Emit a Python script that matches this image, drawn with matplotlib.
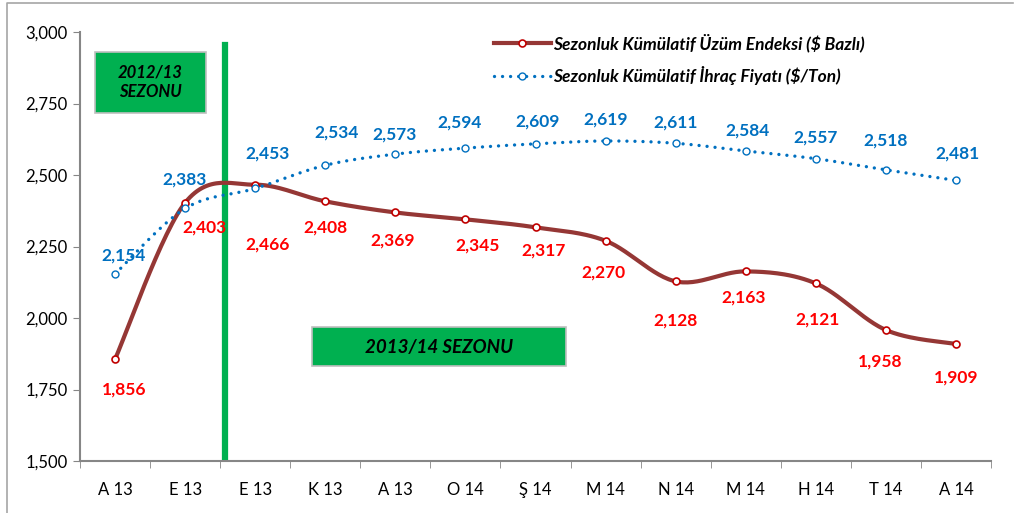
import numpy as np
import matplotlib.pyplot as plt
from matplotlib.lines import Line2D
from matplotlib.patches import Rectangle

plt.rcParams['font.family'] = ['Lato', 'DejaVu Sans']

aylar = ["A 13", "E 13", "E 13", "K 13", "A 13", "O 14", "Ş 14",
         "M 14", "N 14", "M 14", "H 14", "T 14", "A 14"]
endeks = [1856, 2403, 2466, 2408, 2369, 2345, 2317, 2270, 2128, 2163, 2121, 1958, 1909]
ihrac = [2154, 2383, 2453, 2534, 2573, 2594, 2609, 2619, 2611, 2584, 2557, 2518, 2481]

ad_endeks = "Sezonluk Kümülatif Üzüm Endeksi ($ Bazlı)"
ad_ihrac = "Sezonluk Kümülatif İhraç Fiyatı ($/Ton)"

# etiket kaydirmalari (piksel)
ofs_endeks = [(9, -30), (19, -25), (12, -60), (0, -26), (-3, -28), (12, -26),
              (8, -23), (-2, -32), (0, -39), (-2, -26), (2, -36), (-6, -32), (0, -33)]
ofs_ihrac = [(9, 18), (-1, 29), (12, 35), (11, 33), (-1, 20), (-6, 26),
             (2, 22), (0, 21), (0, 21), (2, 20), (0, 21), (0, 29), (2, 27)]


def egri(y, n=30):
    # Excel tarzi yumusatilmis cizgi (Catmull-Rom / Bezier)
    x = np.arange(len(y), dtype=float)
    y = np.asarray(y, dtype=float)
    px = np.concatenate([[x[0]], x, [x[-1]]])
    py = np.concatenate([[y[0]], y, [y[-1]]])
    X, Y = [], []
    t = np.linspace(0, 1, n)
    for i in range(len(x) - 1):
        p0 = (px[i + 1], py[i + 1])
        p3 = (px[i + 2], py[i + 2])
        p1 = (p0[0] + (px[i + 2] - px[i]) / 6, p0[1] + (py[i + 2] - py[i]) / 6)
        p2 = (p3[0] - (px[i + 3] - px[i + 1]) / 6, p3[1] - (py[i + 3] - py[i + 1]) / 6)
        for k in range(2):
            b = ((1 - t) ** 3 * p0[k] + 3 * (1 - t) ** 2 * t * p1[k]
                 + 3 * (1 - t) * t ** 2 * p2[k] + t ** 3 * p3[k])
            (X if k == 0 else Y).append(b)
    return np.concatenate(X), np.concatenate(Y)


fig = plt.figure(figsize=(10.14, 5.13), dpi=100)
ax = fig.add_axes([80 / 1014, 52 / 513, 911 / 1014, 429 / 513])

kirmizi = "#953735"
mavi = "#0070C0"
x = np.arange(len(aylar))

ex, ey = egri(endeks)
ax.plot(ex, ey, color=kirmizi, lw=3.0, solid_capstyle="round", zorder=3)
ax.plot(x, endeks, ls="none", marker="o", ms=5, mfc="white", mec="#C00000", mew=1.2, zorder=4)

ix, iy = egri(ihrac)
ax.plot(ix, iy, color=mavi, lw=2.4, ls=(0, (0.01, 2.4)), dash_capstyle="round", zorder=3)
ax.plot(x, ihrac, ls="none", marker="o", ms=5, mfc="white", mec=mavi, mew=1.0, zorder=4)

for i, v in enumerate(endeks):
    ax.annotate(f"{v:,}", (i, v), xytext=ofs_endeks[i], textcoords="offset pixels",
                ha="center", va="center", color="#FF0000", fontsize=12.5, fontweight="bold", zorder=5)
for i, v in enumerate(ihrac):
    ax.annotate(f"{v:,}", (i, v), xytext=ofs_ihrac[i], textcoords="offset pixels",
                ha="center", va="center", color=mavi, fontsize=12.5, fontweight="bold", zorder=5)

ax.set_xlim(-0.5, len(aylar) - 0.5)
ax.set_ylim(1500, 3000)
ax.set_yticks(range(1500, 3001, 250))
ax.set_yticklabels([f"{v:,}" for v in range(1500, 3001, 250)], fontsize=12)
ax.set_xticks(x)
ax.set_xticklabels(aylar, fontsize=12)
ax.set_xticks(np.arange(-0.5, len(aylar), 1), minor=True)
ax.tick_params(axis="x", which="major", length=0, pad=15)
ax.tick_params(axis="x", which="minor", length=5, color="#868686", direction="out")
ax.tick_params(axis="y", length=5, color="#868686", direction="out", pad=4)
for s in ["top", "right"]:
    ax.spines[s].set_visible(False)
for s in ["left", "bottom"]:
    ax.spines[s].set_color("#868686")
    ax.spines[s].set_linewidth(1.5)

# sezon ayrimi
ax.axvline(1.57, ymin=0.0, ymax=0.97, color="#00B050", lw=4.5, zorder=2)

yesil = "#00B050"
fig.patches.append(Rectangle((95 / 1014, 1 - 113 / 513), 111 / 1014, 61 / 513,
                             transform=fig.transFigure, fc=yesil, ec="#BFBFBF", lw=1.2))
fig.text(150 / 1014, 1 - 82 / 513, "2012/13\nSEZONU", ha="center", va="center",
         fontsize=12, fontweight="bold", fontstyle="italic", linespacing=1.25)
fig.patches.append(Rectangle((312 / 1014, 1 - 366 / 513), 254 / 1014, 39 / 513,
                             transform=fig.transFigure, fc=yesil, ec="#BFBFBF", lw=1.2))
fig.text(439 / 1014, 1 - 347 / 513, "2013/14 SEZONU", ha="center", va="center",
         fontsize=13.5, fontweight="bold", fontstyle="italic")

h1 = Line2D([], [], color=kirmizi, lw=3.0, marker="o", ms=5, mfc="white", mec="#C00000", mew=1.2)
h2 = Line2D([], [], color=mavi, lw=2.4, ls=(0, (0.01, 2.4)), dash_capstyle="round",
            marker="o", ms=5, mfc="white", mec=mavi, mew=1.0)
ax.legend([h1, h2], [ad_endeks, ad_ihrac], loc="upper left",
          bbox_to_anchor=(478 / 1014, 1 - 18 / 513), bbox_transform=fig.transFigure,
          frameon=False, handlelength=3.3, handletextpad=0.15, labelspacing=0.8,
          prop={"size": 12.5, "weight": "bold", "style": "italic"})

# cerceve (ust ve sol)
fig.lines.append(Line2D([7 / 1014, 7 / 1014, 1013 / 1014], [0, 1 - 3 / 513, 1 - 3 / 513],
                        transform=fig.transFigure, color="#A6A6A6", lw=1.2))

fig.savefig("out.png", dpi=100)
